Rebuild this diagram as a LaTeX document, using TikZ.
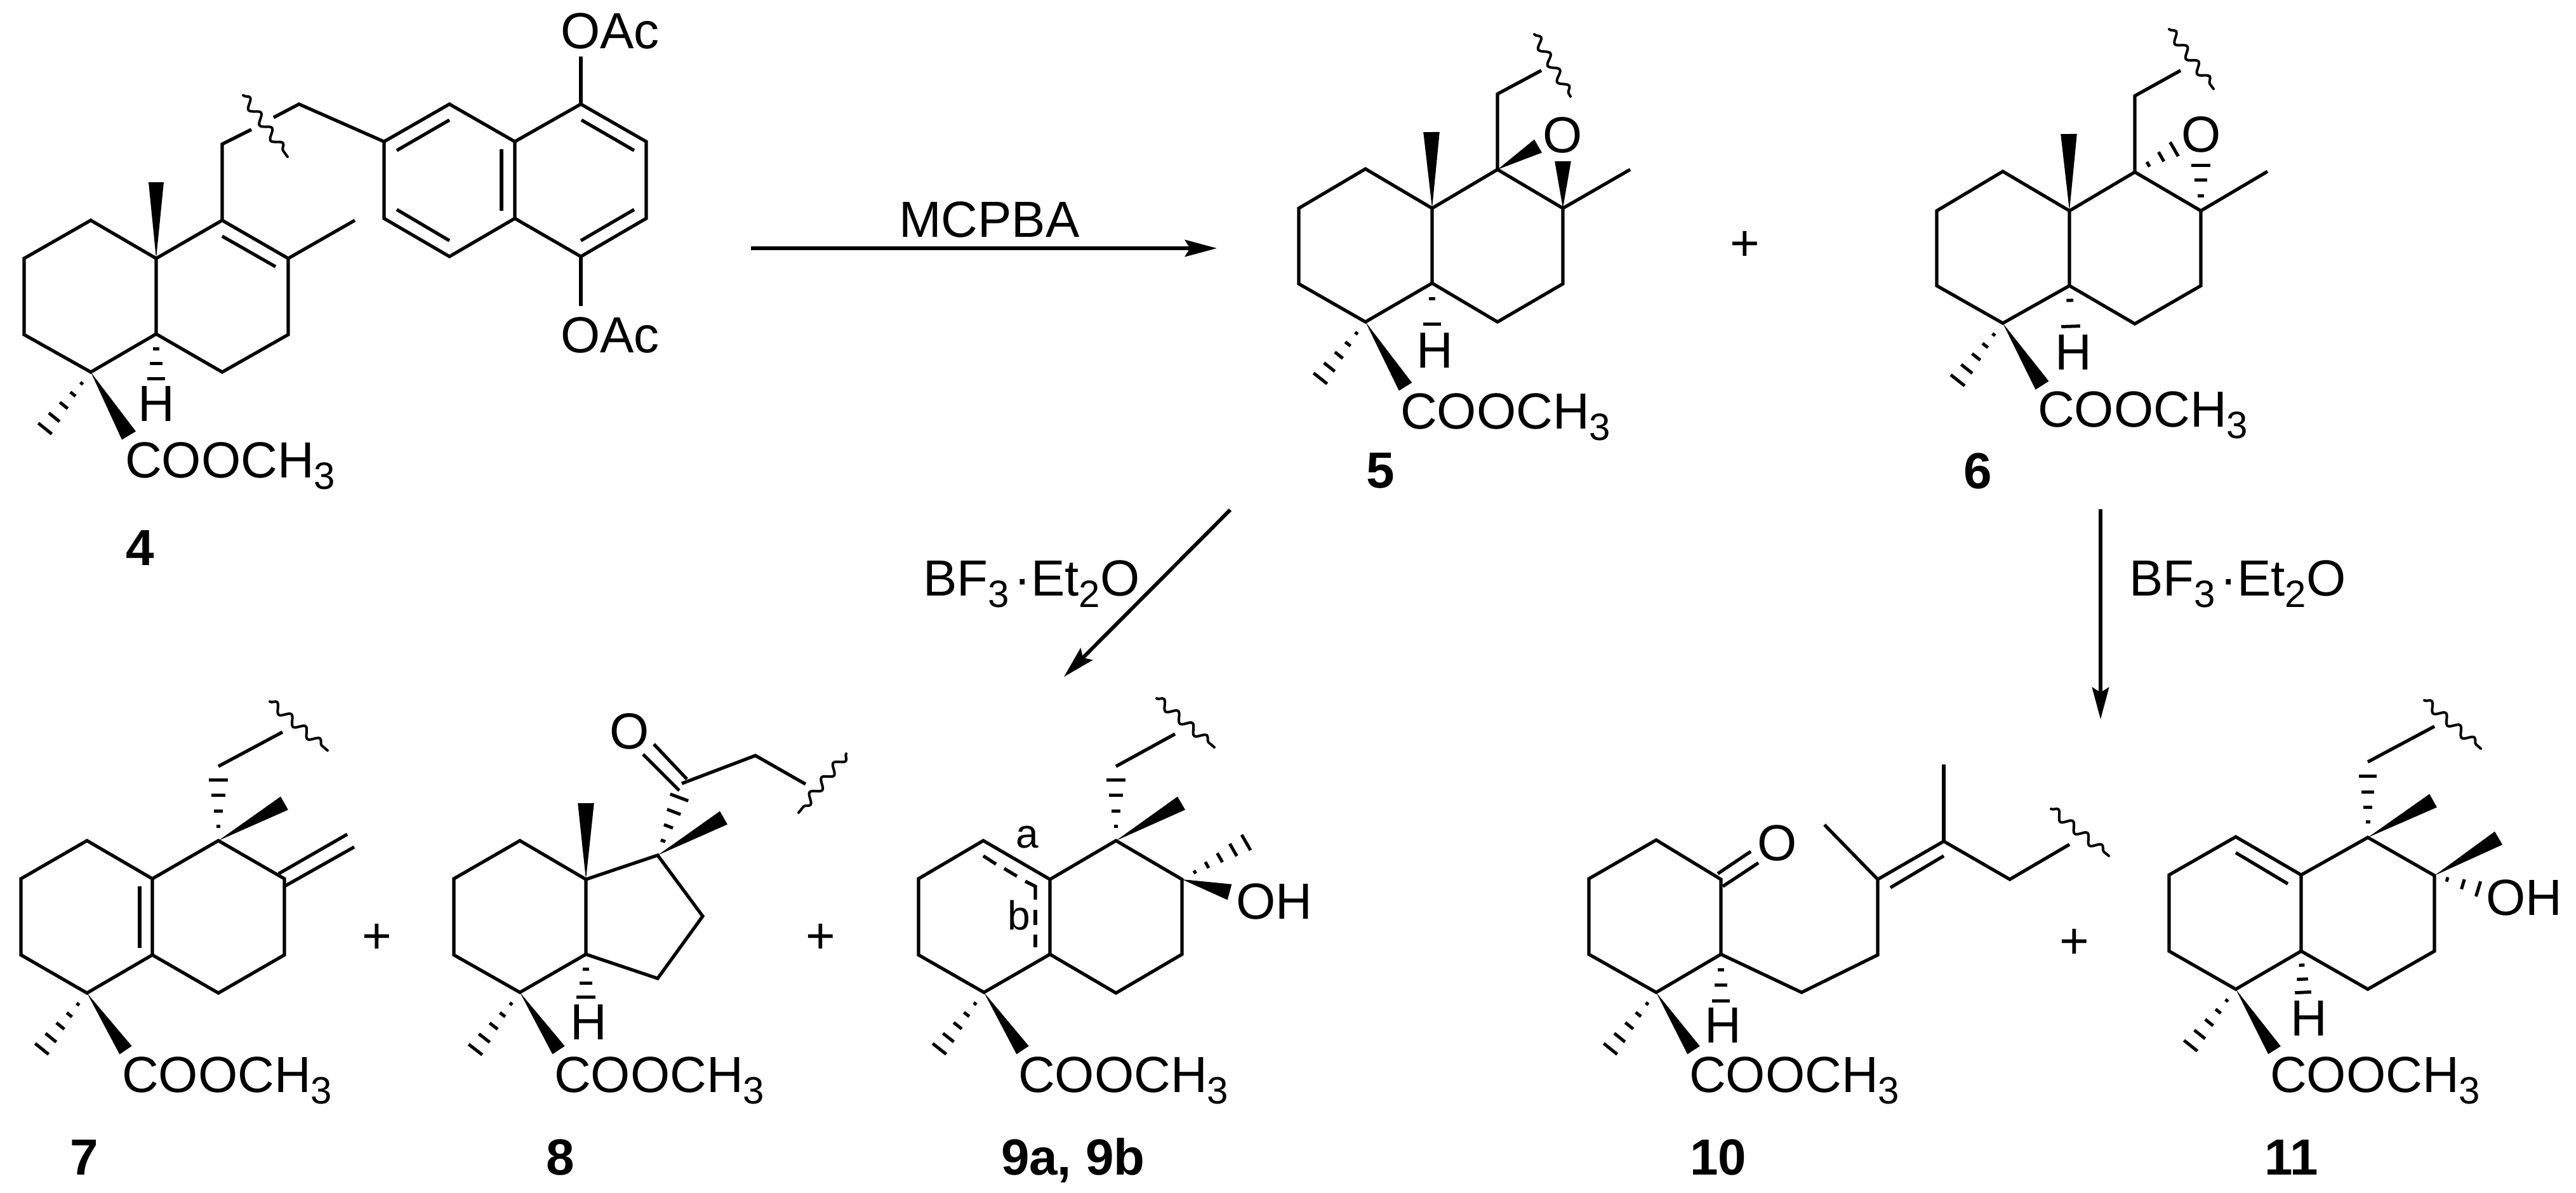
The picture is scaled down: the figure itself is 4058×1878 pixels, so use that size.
\documentclass[tikz,border=0pt]{standalone}
\usepackage{fontspec}
\setmainfont{Liberation Sans}
\usetikzlibrary{calc,arrows.meta,decorations.pathmorphing}
\tikzset{
  bond/.style={line width=1.3pt},
  hashline/.style={line width=1.25pt},
  wavy/.style={line width=1pt,line cap=round,decorate,decoration={snake,amplitude=1.7pt,segment length=7.4pt}},
  rxn/.style={line width=1.45pt,-{Stealth[length=12.6pt,width=6.6pt,inset=2pt]}},
  lbl/.style={inner sep=0pt,outer sep=0pt,anchor=base west,font=\fontsize{20}{24}\selectfont},
  cmpd/.style={lbl,font=\fontsize{20}{24}\selectfont\bfseries},
  small/.style={lbl,font=\fontsize{16}{18}\selectfont},
  plus/.style={inner sep=0pt,outer sep=0pt,anchor=center,font=\fontsize{20}{24}\selectfont},
}
\newcommand{\chemsub}[1]{\raisebox{-4.7pt}{\fontsize{15}{15}\selectfont #1}}
\newcommand{\coome}{COOCH\chemsub{3}}
\newcommand{\bfether}{BF\chemsub{3}\kern2pt\textperiodcentered Et\chemsub{2}O}
\newcommand{\wedgebond}[3]{\fill #1 -- ($#2!#3!90:#1$) -- ($#2!#3!-90:#1$) -- cycle;}
\newcommand{\hashbond}[4][.2,.39,.59,.8,1]{%
  \foreach \hpos in {#1}{
    \coordinate (hc) at ($#2!\hpos!#3$);
    \draw[hashline] ($(hc)!\hpos*#4!90:#2$) -- ($(hc)!\hpos*#4!-90:#2$);
  }}
\begin{document}
\begin{tikzpicture}[x=0.25pt,y=-0.25pt]
\useasboundingbox (0,0) rectangle (4058,1878);

\path (143,347) coordinate (m4-1) (38,407) coordinate (m4-2) (38,527) coordinate (m4-3) (143,586) coordinate (m4-4)
      (246,526) coordinate (m4-5) (246,407) coordinate (m4-6) (350,347) coordinate (m4-7) (454,407) coordinate (m4-8)
      (454,527) coordinate (m4-9) (350,586) coordinate (m4-10);
\draw[bond] (m4-1) -- (m4-2) -- (m4-3) -- (m4-4) -- (m4-5) -- (m4-6) -- cycle;
\draw[bond] (m4-6) -- (m4-7) -- (m4-8) -- (m4-9) -- (m4-10) -- (m4-5);
\draw[bond] (350,372) -- (434,420);
\draw[bond] (m4-8) -- (559,347);
\draw[bond] (m4-7) -- (350,227) -- (396,204);
\draw[bond] (431,185) -- (471,164) -- (605,223);
\draw[wavy] (383,150) -- (453,247);
\draw[bond] (605,223) -- (708,164) -- (811,223) -- (811,344) -- (708,404) -- (605,344) -- cycle;
\draw[bond] (811,223) -- (915,164) -- (1018,223) -- (1018,344) -- (915,404) -- (811,344);
\draw[bond] (625,237) -- (708,189);
\draw[bond] (625,330) -- (708,379);
\draw[bond] (790,235) -- (790,332);
\draw[bond] (916,189) -- (999,237);
\draw[bond] (915,379) -- (999,330);
\draw[bond] (915,164) -- (915,89);
\draw[bond] (915,404) -- (915,482);
\wedgebond{(m4-6)}{(246,287)}{3pt}
\wedgebond{(m4-4)}{(203,686)}{3.2pt}
\hashbond{(m4-4)}{(71,675)}{3.4pt}
\hashbond[.33,.66,1]{(m4-5)}{(246,596)}{3.6pt}
\node[lbl] (oac1) at (883,76) {OAc};
\node[lbl] (oac2) at (883,555) {OAc};
\node[lbl] (h4) at (217,663) {H};
\node[lbl] (ester4) at (197,752) {\coome};
\node[cmpd] (lbl4) at (198,890) {4};

\coordinate (mcpbaStart) at (1183,391);
\coordinate (mcpbaEnd) at (1917,391);
\draw[rxn] (mcpbaStart) -- (mcpbaEnd);
\node[lbl] (mcpba) at (1416,373) {MCPBA};

\path (2151,266) coordinate (m5-1) (2046,328) coordinate (m5-2) (2046,447) coordinate (m5-3) (2151,507) coordinate (m5-4)
      (2256,446) coordinate (m5-5) (2256,328) coordinate (m5-6) (2359,267) coordinate (m5-7) (2462,328) coordinate (m5-8)
      (2462,447) coordinate (m5-9) (2359,507) coordinate (m5-10);
\draw[bond] (m5-1) -- (m5-2) -- (m5-3) -- (m5-4) -- (m5-5) -- (m5-6) -- cycle;
\draw[bond] (m5-6) -- (m5-7) -- (m5-8) -- (m5-9) -- (m5-10) -- (m5-5);
\draw[bond] (m5-8) -- (2568,267);
\draw[bond] (m5-7) -- (2359,148) -- (2428,111);
\draw[wavy] (2417,54) -- (2474,152);
\wedgebond{(m5-6)}{(2255,208)}{3.2pt}
\wedgebond{(m5-7)}{(2423,230)}{3pt}
\wedgebond{(m5-8)}{(2462,254)}{3.2pt}
\wedgebond{(m5-4)}{(2214,609)}{3pt}
\hashbond{(m5-4)}{(2080,596)}{3.4pt}
\hashbond[.39,1]{(m5-5)}{(2256,510)}{3.5pt}
\node[lbl] (o5) at (2430,240) {O};
\node[lbl] (h5) at (2231,579) {H};
\node[lbl] (ester5) at (2206,675) {\coome};
\node[cmpd] (lbl5) at (2152,768) {5};
\node[plus] (plus1) at (2749,387) {+};

\path (3155,270) coordinate (m6-1) (3051,332) coordinate (m6-2) (3051,450) coordinate (m6-3) (3155,509) coordinate (m6-4)
      (3260,450) coordinate (m6-5) (3260,332) coordinate (m6-6) (3363,271) coordinate (m6-7) (3467,332) coordinate (m6-8)
      (3467,450) coordinate (m6-9) (3363,510) coordinate (m6-10);
\draw[bond] (m6-1) -- (m6-2) -- (m6-3) -- (m6-4) -- (m6-5) -- (m6-6) -- cycle;
\draw[bond] (m6-6) -- (m6-7) -- (m6-8) -- (m6-9) -- (m6-10) -- (m6-5);
\draw[bond] (m6-8) -- (3572,270);
\draw[bond] (m6-7) -- (3363,151) -- (3435,111);
\draw[wavy] (3417,46) -- (3487,140);
\wedgebond{(m6-6)}{(3259,211)}{3.2pt}
\wedgebond{(m6-4)}{(3217,607)}{3.1pt}
\hashbond{(m6-4)}{(3084,599)}{3.5pt}
\hashbond[.34,.67,1]{(m6-7)}{(3425,235)}{3.2pt}
\hashbond[.33,.67,1]{(m6-8)}{(3467,260)}{3.7pt}
\hashbond[.36,1]{(m6-5)}{(3262,514)}{3.7pt}
\node[lbl] (o6) at (3436,239) {O};
\node[lbl] (h6) at (3237,582) {H};
\node[lbl] (ester6) at (3210,672) {\coome};
\node[cmpd] (lbl6) at (3093,769) {6};

\coordinate (bfaStart) at (1938,803);
\coordinate (bfaEnd) at (1676,1066);
\draw[rxn] (bfaStart) -- (bfaEnd);
\node[lbl] (bfa) at (1454,938) {\bfether};
\coordinate (bfbStart) at (3309,802);
\coordinate (bfbEnd) at (3309,1133);
\draw[rxn] (bfbStart) -- (bfbEnd);
\node[lbl] (bfb) at (3354,938) {\bfether};

\path (137,1324) coordinate (m7-1) (33,1384) coordinate (m7-2) (33,1504) coordinate (m7-3) (137,1564) coordinate (m7-4)
      (240,1504) coordinate (m7-5) (240,1384) coordinate (m7-6) (344,1324) coordinate (m7-7) (448,1384) coordinate (m7-8)
      (448,1504) coordinate (m7-9) (344,1564) coordinate (m7-10);
\draw[bond] (m7-1) -- (m7-2) -- (m7-3) -- (m7-4) -- (m7-5) -- (m7-6) -- cycle;
\draw[bond] (m7-6) -- (m7-7) -- (m7-8) -- (m7-9) -- (m7-10) -- (m7-5);
\draw[bond] (220,1396) -- (220,1493);
\draw[bond] (439,1376) -- (547,1314);
\draw[bond] (448,1396) -- (558,1334);
\draw[bond] (344,1207) -- (445,1153);
\draw[wavy] (425,1105) -- (516,1182);
\hashbond[.23,.48,.74,1]{(m7-7)}{(344,1228)}{3.7pt}
\wedgebond{(m7-7)}{(448,1265)}{3pt}
\wedgebond{(m7-4)}{(198,1654)}{2.9pt}
\hashbond{(m7-4)}{(66,1652)}{3.4pt}
\node[lbl] (ester7) at (192,1720) {\coome};
\node[cmpd] (lbl7) at (110,1850) {7};
\node[plus] (plus2) at (594,1478) {+};

\path (819,1324) coordinate (m8-1) (715,1384) coordinate (m8-2) (715,1504) coordinate (m8-3) (819,1563) coordinate (m8-4)
      (923,1503) coordinate (m8-5) (923,1385) coordinate (m8-6) (1036,1347) coordinate (m8-7) (1107,1443) coordinate (m8-8)
      (1036,1541) coordinate (m8-9);
\draw[bond] (m8-1) -- (m8-2) -- (m8-3) -- (m8-4) -- (m8-5) -- (m8-6) -- cycle;
\draw[bond] (m8-6) -- (m8-7) -- (m8-8) -- (m8-9) -- (m8-5);
\draw[bond] (1030,1172) -- (1082,1227);
\draw[bond] (1013,1188) -- (1070,1245);
\draw[bond] (1074,1234) -- (1190,1190) -- (1269,1235);
\draw[wavy] (1333,1187) -- (1258,1280);
\wedgebond{(m8-6)}{(923,1265)}{3.2pt}
\wedgebond{(m8-7)}{(1140,1288)}{3pt}
\wedgebond{(m8-4)}{(880,1654)}{2.9pt}
\hashbond[.25,.5,.75,1]{(m8-7)}{(1070,1256)}{3.8pt}
\hashbond{(m8-4)}{(749,1653)}{3.4pt}
\hashbond[.35,.68,1]{(m8-5)}{(923,1570)}{3.7pt}
\node[lbl] (o8) at (960,1179) {O};
\node[lbl] (h8) at (898,1637) {H};
\node[lbl] (ester8) at (873,1720) {\coome};
\node[cmpd] (lbl8) at (860,1850) {8};
\node[plus] (plus3) at (1293,1478) {+};

\path (1549,1324) coordinate (m9-1) (1447,1384) coordinate (m9-2) (1447,1504) coordinate (m9-3) (1550,1563) coordinate (m9-4)
      (1654,1503) coordinate (m9-5) (1654,1385) coordinate (m9-6) (1758,1324) coordinate (m9-7) (1862,1385) coordinate (m9-8)
      (1862,1503) coordinate (m9-9) (1758,1564) coordinate (m9-10);
\draw[bond] (m9-1) -- (m9-2) -- (m9-3) -- (m9-4) -- (m9-5) -- (m9-6) -- cycle;
\draw[bond] (m9-6) -- (m9-7) -- (m9-8) -- (m9-9) -- (m9-10) -- (m9-5);
\draw[bond] (1549,1348) -- (1569,1361);
\draw[bond] (1582,1368) -- (1602,1380);
\draw[bond] (1615,1388) -- (1631,1396) -- (1631,1417);
\draw[bond] (1631,1433) -- (1631,1457);
\draw[bond] (1631,1472) -- (1631,1492);
\draw[bond] (1758,1207) -- (1851,1156);
\draw[wavy] (1822,1100) -- (1913,1177);
\hashbond[.23,.48,.74,1]{(m9-7)}{(1758,1228)}{3.7pt}
\wedgebond{(m9-7)}{(1861,1265)}{3pt}
\hashbond{(m9-8)}{(1963,1327)}{3.5pt}
\wedgebond{(m9-8)}{(1937,1405)}{3.2pt}
\wedgebond{(m9-4)}{(1611,1654)}{2.9pt}
\hashbond{(m9-4)}{(1480,1652)}{3.4pt}
\node[small] (a9) at (1600,1335) {a};
\node[small] (b9) at (1587,1464) {b};
\node[lbl] (oh9) at (1947,1447) {OH};
\node[lbl] (ester9) at (1604,1720) {\coome};
\node[cmpd] (lbl9) at (1577,1850) {9a, 9b};

\path (2609,1323) coordinate (m10-1) (2503,1384) coordinate (m10-2) (2503,1503) coordinate (m10-3) (2609,1563) coordinate (m10-4)
      (2711,1503) coordinate (m10-5) (2711,1385) coordinate (m10-6) (2838,1563) coordinate (m10-7) (2958,1504) coordinate (m10-8)
      (2958,1385) coordinate (m10-9) (3062,1325) coordinate (m10-10) (3166,1385) coordinate (m10-11);
\draw[bond] (m10-1) -- (m10-2) -- (m10-3) -- (m10-4) -- (m10-5) -- (m10-6) -- cycle;
\draw[bond] (m10-5) -- (m10-7) -- (m10-8) -- (m10-9) -- (m10-10) -- (m10-11) -- (3260,1330);
\draw[bond] (2706,1376) -- (2758,1341);
\draw[bond] (2714,1396) -- (2770,1359);
\draw[bond] (2978,1398) -- (3062,1348);
\draw[bond] (m10-9) -- (2874,1299);
\draw[bond] (m10-10) -- (3062,1204);
\draw[wavy] (3231,1274) -- (3322,1348);
\wedgebond{(m10-4)}{(2668,1654)}{2.9pt}
\hashbond{(m10-4)}{(2537,1652)}{3.4pt}
\hashbond[.34,.67,1]{(m10-5)}{(2711,1576)}{3.6pt}
\node[lbl] (o10) at (2768,1355) {O};
\node[lbl] (h10) at (2685,1642) {H};
\node[lbl] (ester10) at (2661,1720) {\coome};
\node[cmpd] (lbl10) at (2662,1850) {10};
\node[plus] (plus4) at (3268,1486) {+};

\path (3522,1318) coordinate (m11-1) (3417,1378) coordinate (m11-2) (3417,1498) coordinate (m11-3) (3522,1558) coordinate (m11-4)
      (3625,1498) coordinate (m11-5) (3625,1378) coordinate (m11-6) (3730,1319) coordinate (m11-7) (3835,1379) coordinate (m11-8)
      (3835,1498) coordinate (m11-9) (3730,1558) coordinate (m11-10);
\draw[bond] (m11-1) -- (m11-2) -- (m11-3) -- (m11-4) -- (m11-5) -- (m11-6) -- cycle;
\draw[bond] (m11-6) -- (m11-7) -- (m11-8) -- (m11-9) -- (m11-10) -- (m11-5);
\draw[bond] (3522,1343) -- (3604,1392);
\draw[bond] (3730,1200) -- (3835,1144);
\draw[wavy] (3819,1103) -- (3908,1179);
\hashbond[.25,.49,.74,1]{(m11-7)}{(3730,1222)}{3.5pt}
\wedgebond{(m11-7)}{(3833,1261)}{3pt}
\wedgebond{(m11-8)}{(3936,1320)}{3pt}
\hashbond[.29,.65,1]{(m11-8)}{(3904,1400)}{3.1pt}
\hashbond[.34,.68,1]{(m11-5)}{(3628,1563)}{3.2pt}
\wedgebond{(m11-4)}{(3583,1654)}{2.9pt}
\hashbond{(m11-4)}{(3451,1647)}{3.4pt}
\node[lbl] (oh11) at (3916,1441) {OH};
\node[lbl] (h11) at (3608,1631) {H};
\node[lbl] (ester11) at (3576,1720) {\coome};
\node[cmpd] (lbl11) at (3567,1850) {11};
\end{tikzpicture}
\end{document}
